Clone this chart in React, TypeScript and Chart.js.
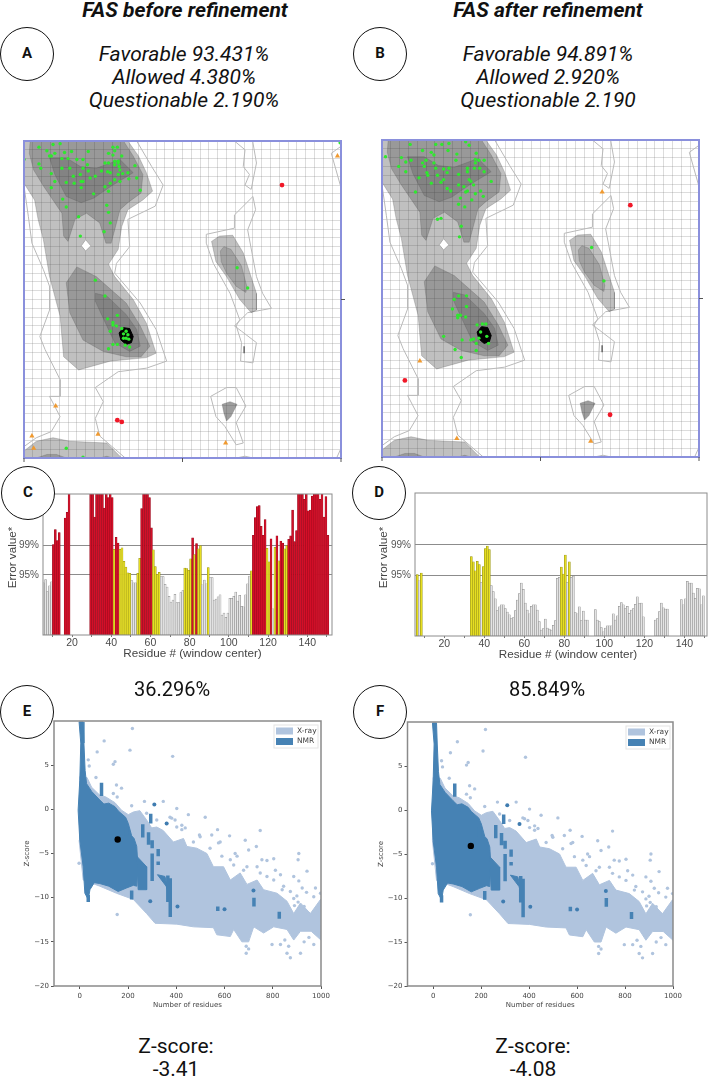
import React, { useEffect, useRef } from "react";
import { Chart, registerables } from "chart.js";

Chart.register(...registerables);

type P = [number, number];

/* ---------- Ramachandran plots (phi, psi in degrees) ---------- */
const ramaFrameTicks = [-180, 0, 180];
const ramaSideTicks = [0];

const lightMain: P[] = [[-180,180],[-62,180],[-50,163],[-41,144],[-34,123],[-45,113],[-62,102],[-69,83],[-73,57],[-84,40],[-77,26],[-56,0],[-41,-27],[-30,-61],[-41,-66],[-82,-70],[-118,-80],[-135,-65],[-139,-19],[-151,26],[-158,68],[-164,91],[-168,113],[-180,132]];
const hole: P[] = [[-110,68],[-104,61],[-110,55],[-115,61]];
const midTop: P[] = [[-173,180],[-67,180],[-56,163],[-45,142],[-47,121],[-62,110],[-71,102],[-81,64],[-87,64],[-94,87],[-109,98],[-122,91],[-130,66],[-135,72],[-137,98],[-158,129],[-169,147],[-174,166]];
const coreTop: P[] = [[-151,161],[-132,161],[-116,151],[-98,149],[-71,159],[-56,144],[-79,130],[-101,115],[-115,110],[-132,117],[-145,142]];
const midAlpha: P[] = [[-120,37],[-98,26],[-64,-4],[-48,-30],[-37,-53],[-47,-65],[-64,-65],[-90,-59],[-113,-46],[-128,-15],[-132,19]];
const coreAlpha: P[] = [[-99,7],[-86,4],[-64,-17],[-52,-34],[-48,-53],[-60,-59],[-77,-49],[-86,-30],[-99,-2]];
const blackCore: P[] = [[-67,-32],[-60,-33],[-56,-42],[-58,-49],[-64,-51],[-70,-46],[-72,-38]];
const lightBottom: P[] = [[-180,-180],[-180,-172],[-166,-161],[-147,-157],[-128,-161],[-86,-163],[-69,-180]];
const midBottomA: P[] = [[-166,-180],[-154,-176],[-143,-176],[-132,-180]];
const midBottomB: P[] = [[-94,-180],[-86,-178],[-79,-180]];
const lightRight: P[] = [[33,66],[42,72],[57,73],[69,53],[84,7],[84,-12],[78,-15],[65,0],[50,26],[38,43]];
const midRight: P[] = [[43,55],[47,60],[55,57],[67,38],[73,15],[72,8],[61,15],[50,30],[44,43]];
const smallIsland: P[] = [[45,-119],[54,-116],[62,-119],[55,-133],[50,-138],[47,-129]];

const outlineLeft: P[] = [[-180,129],[-175,94],[-171,64],[-158,34],[-151,15],[-151,-12],[-162,-42],[-156,-57],[-139,-91],[-139,-110],[-151,-110],[-139,-133],[-149,-150],[-166,-157],[-180,-167]];
const outlineCentre: P[] = [[-52,180],[-35,151],[-22,130],[-31,106],[-62,91],[-60,60],[-75,41],[-77,30],[-48,-4],[-30,-34],[-18,-70],[-41,-78],[-73,-82],[-99,-100],[-90,-116],[-99,-135],[-94,-155],[-65,-180]];
const outlineRight: P[] = [[27,74],[59,81],[59,96],[80,117],[83,102],[74,79],[84,26],[91,7],[101,-10],[74,-15],[59,-30],[67,-36],[84,-49],[80,-72],[66,-70],[67,-49],[61,-30],[65,-23],[54,7],[35,41],[27,64],[27,74]];
const outlineTop: P[] = [[59,180],[71,170],[69,151],[76,142],[71,130],[78,125],[84,155],[80,178],[80,180]];
const outlineBottom: P[] = [[32,-110],[50,-100],[61,-100],[72,-121],[61,-140],[69,-163],[61,-165],[48,-144],[38,-133],[32,-110]];
const outlineCornerTop: P[] = [[180,174],[169,166],[180,127]];
const outlineCornerBottom: P[] = [[180,-169],[175,-180]];
const outlineFoot: P[] = [[61,-180],[71,-178],[80,-180]];
const darkSpeck: P[] = [[70,-53],[70,-61]];

const greenA: P[] = [[-163,173],[-154,169],[-147,176],[-139,177],[-180,159],[-163,154],[-161,149],[-151,163],[-149,163],[-145,166],[-134,167],[-126,168],[-107,168],[-79,173],[-74,173],[-77,169],[-84,166],[-79,164],[-69,163],[-84,155],[-88,155],[-77,157],[-73,157],[-73,155],[-77,153],[-72,151],[-54,152],[-137,160],[-130,160],[-120,159],[-113,159],[-108,153],[-137,149],[-128,149],[-113,149],[-85,145],[-82,144],[-71,147],[-68,143],[-62,144],[-73,142],[-77,136],[-71,134],[-61,137],[-52,138],[-149,143],[-145,134],[-132,133],[-124,140],[-115,134],[-113,134],[-105,138],[-99,140],[-116,142],[-107,146],[-92,146],[-82,132],[-115,127],[-123,132],[-88,128],[-84,123],[-101,120],[-48,124],[-149,127],[-136,114],[-132,105],[-118,94],[-86,107],[-84,99],[-82,87],[-89,77],[-116,72],[-99,22],[-88,4],[-85,-22],[-74,-18],[-79,-26],[-75,-30],[-82,-36],[-79,-29],[-69,-33],[-67,-39],[-64,-36],[-62,-40],[-64,-44],[-61,-45],[-67,-44],[-79,-51],[-74,-51],[-84,-56],[-65,-52],[-60,-54],[62,36],[74,13],[179,178],[-132,-169],[-113,-179]];
const orangeA: P[] = [[176,163],[-144,-121],[-171,-155],[-169,-169],[-96,-153],[49,-163]];
const redA: P[] = [[113,130],[-74,-137],[-69,-139]];

const greenB: P[] = [[-176,161],[-148,175],[-119,175],[-112,175],[-104,176],[-85,178],[-81,174],[-134,168],[-124,166],[-121,163],[-105,168],[-95,164],[-73,165],[-158,160],[-153,155],[-147,157],[-134,154],[-130,157],[-121,154],[-96,157],[-74,158],[-70,157],[-64,157],[-161,150],[-153,144],[-132,150],[-129,143],[-128,140],[-119,148],[-117,140],[-110,147],[-106,143],[-104,148],[-93,141],[-83,148],[-83,144],[-74,154],[-75,148],[-69,148],[-64,144],[-56,133],[-138,137],[-124,131],[-113,132],[-110,135],[-106,125],[-102,122],[-93,129],[-87,127],[-81,135],[-79,133],[-76,129],[-85,121],[-83,122],[-68,122],[-74,119],[-65,116],[-142,121],[-91,114],[-78,112],[-93,107],[-86,104],[-117,90],[-113,91],[-90,82],[-92,70],[-93,3],[-84,3],[-98,-1],[-84,-9],[-100,-12],[-94,-19],[-91,-19],[-85,-21],[-94,-22],[-72,-30],[-66,-29],[-62,-29],[-68,-38],[-61,-43],[-70,-45],[-76,-46],[-79,-47],[-73,-51],[-59,-51],[-110,-43],[-89,-47],[-97,-58],[-73,-59],[-90,-67],[58,58],[72,20]];
const orangeB: P[] = [[-137,-71],[70,121],[-95,-159],[57,-162]];
const redB: P[] = [[102,106],[-154,-93],[79,-132]];

/* ---------- ERRAT error values per residue ---------- */
const errorTop = 27;
const limit95 = 11.5;
const limit99 = 17.2;
const errorTicks = [limit95, limit99];
const errorTickLabels = ["95%", "99%"];
const residueTicks = [10, 20, 30, 40, 50, 60, 70, 80, 90, 100, 110, 120, 130, 140, 150];
const residueLabelled = [20, 40, 60, 80, 100, 120, 140];

const errorC: (number | null)[] = [
  10.0,10.6,8.3,9.4,10.2,
  17.3,20.2,18.1,19.6,null,null,22.4,23.5,30,null,
  null,null,null,null,null,null,null,null,null,30,
  30,22.6,30,30,30,30,24.3,30,26.3,30,
  26.3,16.4,18.7,17.6,16.4,16.7,14.1,13.0,11.9,11.8,
  10.4,10.0,10.0,11.8,14.7,24.2,30,30,30,26.3,
  20.5,16.3,13.1,11.6,12.0,11.2,11.2,9.7,9.2,7.4,
  6.3,6.7,7.8,6.2,6.2,8.1,8.5,12.8,12.7,12.4,
  14.6,18.6,15.4,17.5,16.5,17.1,9.6,10.5,9.8,12.9,
  11.0,11.0,6.7,6.9,7.3,7.7,3.8,4.2,3.4,4.2,
  7.0,7.0,7.4,8.2,6.5,7.6,5.5,5.4,7.7,9.8,
  11.3,12.3,19.1,22.5,24.6,24.8,20.8,19.1,22.1,16.6,
  14.0,18.4,5,16.8,19,14.2,18,17.6,16.5,17.1,
  18.3,19,23.9,17.9,20,30,30,27,26,30,
  23.8,23.9,26.6,30,30,30,26,27,22.6,26.5,19.1,
];
const errorD: (number | null)[] = [
  null,11.6,10.4,11.9,null,
  null,null,null,null,null,null,null,null,null,null,
  null,null,null,null,null,null,null,null,null,null,
  null,null,null,15.0,14,12.3,14.1,13.5,10.1,13.1,
  16.5,17.0,16.3,9.5,8.4,7.0,4.8,5.5,5.9,5.9,
  5.2,4.5,4.0,3.3,3.5,4.8,6.8,8,10,8.8,
  6.2,4.9,4.2,5.6,5.9,5.9,4.9,2.7,1.1,1.4,
  3.2,1.5,1.3,1.1,2,2.9,10.9,11.1,13,11.7,
  15.3,10.1,14,11.1,11.3,4.4,4.2,5.5,2.9,4.7,
  3,3,null,null,null,5,3,2.7,1.6,0.8,
  1.5,1.9,1.9,1.9,4.2,3,3.8,5.6,6.3,5.9,
  5.2,5.6,4.3,4.9,5.2,6,7.4,6.1,6.2,3.6,
  null,null,null,null,null,3,3.3,4.6,6.2,5.3,
  5.1,5.1,null,null,null,null,null,null,6.9,5.9,
  7,10.3,10,10,8.1,7.1,9,8.9,5.9,7.6,null,
];
const firstResidue = 5.5;

/* ---------- Z-score clouds (residues, z) ---------- */
const zxTicks = [0, 200, 400, 600, 800, 1000];
const zyTicks = [-20, -15, -10, -5, 0, 5];
const xrayCloud: P[] = [[0,3.7],[30,3.6],[49,2.5],[83,1.6],[108,1.4],[146,0.75],[173,-0.1],[201,-0.6],[222,-0.3],[249,-0.15],[277,-1.2],[298,-2.1],[319,-2],[346,-2.4],[388,-3.7],[430,-3.3],[444,-4.2],[485,-4.4],[527,-5],[554,-6.5],[596,-6.5],[624,-8],[665,-7.2],[693,-8.5],[735,-8],[762,-9.1],[818,-9.5],[859,-10.4],[887,-11.8],[915,-10.6],[956,-11.8],[998,-10.2],[1000,-14.8],[959,-13.8],[915,-13.8],[887,-14.8],[859,-13.6],[804,-13.3],[762,-14],[721,-13.3],[700,-15],[672,-15],[638,-13.6],[624,-14.4],[568,-14.2],[554,-13.4],[471,-13.3],[402,-13],[312,-12.9],[277,-11.8],[222,-10.2],[152,-9.5],[83,-8.7],[14,-8],[-3,-3.5]];
const nmrCloud: P[] = [[-3,9.9],[14,9.9],[17,7.5],[22,4.4],[28,2.9],[50,2],[83,1.05],[100,0.6],[120,0.7],[146,0.3],[160,-0.2],[190,-0.9],[201,-1.6],[215,-3],[225,-3.3],[236,-4.2],[240,-6],[236,-8.7],[222,-8.6],[194,-8.9],[159,-9.3],[120,-8.7],[83,-8.4],[60,-8.3],[42,-9.1],[35,-10.2],[21,-9.5],[14,-6.5],[0,-3.5],[-7,-0.1],[0,3.3],[4,7.5]];
const nmrBlobA: P[] = [[236,-5.3],[277,-6.5],[277,-9.1],[242,-9.1]];
const nmrBlobB: P[] = [[322,-7.4],[353,-7.6],[374,-10.2],[358,-8.7]];
const nmrColumns: [number, number, number][] = [[90,3,1.5],[294,-0.5,-1.6],[261,-1.7,-3.2],[285,-2.6,-4],[300,-3.5,-4.4],[325,-4.5,-5.3],[325,-5.9,-6.3],[300,-5,-8.1],[375,-7.8,-12.2],[365,-7.5,-10.5],[572,-11,-11.5],[722,-10,-11],[827,-11.6,-12.4],[215,-9.2,-10.2],[35,-9.7,-10.5],[194,-2,-3]];
const nmrDots: P[] = [[309,0.55],[360,-1.6],[292,-10.4],[405,-11],[600,-11.3],[720,-9.2]];
const xrayStray: P[] = [[218,9.15],[101,7.75],[208,6.7],[385,6],[72,6.5],[146,5.4],[139,5.1],[35,5.6],[39,4.9],[67,3.6],[152,2.75],[173,2.4],[139,1.8],[155,1.4],[215,0.4],[268,0.9],[346,0.9],[402,0.1],[450,-0.6],[520,-0.9],[395,-1.2],[374,-0.9],[423,-2.3],[571,-2.3],[496,-2.9],[547,-2.9],[621,-3],[748,-2.4],[686,-3.5],[582,-3.7],[700,-4.6],[732,-4.2],[644,-5],[652,-5.3],[755,-5.7],[776,-5.8],[804,-5.6],[908,-5],[905,-5.7],[811,-6.9],[832,-7.4],[887,-7.6],[908,-8.1],[942,-7],[977,-8.9],[721,-9.1],[922,-8.9],[970,-9.9],[887,-10.1],[155,-11.9],[-3,-6.1],[949,-11.8],[977,-11.8],[915,-16.3],[873,-16.8],[859,-16.3],[690,-16.3],[832,-15.3],[797,-15.3],[970,-15.3],[998,-9.5],[984,-14],[700,-15.8],[690,-15.5],[866,-15.5],[850,-14.8],[930,-15],[950,-14.5],[905,-10.5],[890,-10.9],[930,-11],[960,-12],[985,-11.5],[277,-0.45],[229,-0.8],[319,-1.2],[360,-1.6],[381,-1],[402,-2],[423,-1.8],[437,-2.1],[471,-3.7],[499,-3.1],[540,-4.4],[575,-3.8],[589,-5.3],[624,-5.7],[638,-6.3],[679,-6.9],[693,-6.5],[735,-6.5],[748,-7.2],[776,-7.6],[804,-8],[839,-9.1],[873,-9.3],[845,-8.7],[900,-9.8],[940,-9.4]];
const proteinE: P[] = [[157, -3.41]];
const proteinF: P[] = [[157, -4.08]];

/* ---------- Helpers ---------- */
const polyFillPlugin = {
  id: "polyFill",
  beforeDatasetDraw(chart: any, args: any) {
    const ds: any = chart.data.datasets[args.index];
    if (!ds.polyFill) return;
    const { ctx, chartArea: a } = chart;
    ctx.save();
    ctx.beginPath();
    ctx.rect(a.left, a.top, a.right - a.left, a.bottom - a.top);
    ctx.clip();
    ctx.beginPath();
    args.meta.data.forEach((p: any, i: number) => (i ? ctx.lineTo(p.x, p.y) : ctx.moveTo(p.x, p.y)));
    ctx.closePath();
    ctx.fillStyle = ds.polyFill;
    ctx.fill();
    ctx.restore();
  },
};

const framePlugin = {
  id: "frame",
  afterDraw(chart: any, _a: any, o: any) {
    const { ctx, chartArea: a } = chart;
    ctx.save();
    ctx.strokeStyle = o.color;
    ctx.lineWidth = o.width;
    ctx.strokeRect(a.left, a.top, a.right - a.left, a.bottom - a.top);
    if (o.marks) {
      ctx.strokeStyle = "#555";
      ctx.lineWidth = 1;
      ctx.beginPath();
      ramaFrameTicks.forEach((v) => {
        const x = chart.scales.x.getPixelForValue(v);
        ctx.moveTo(x, a.bottom);
        ctx.lineTo(x, a.bottom + 4);
      });
      ramaSideTicks.forEach((v) => {
        const y = chart.scales.y.getPixelForValue(v);
        ctx.moveTo(a.right, y);
        ctx.lineTo(a.right + 4, y);
      });
      ctx.stroke();
    }
    if (o.captions) {
      ctx.fillStyle = "#444";
      ctx.font = "11.7px 'Liberation Sans'";
      ctx.textAlign = "center";
      ctx.textBaseline = "middle";
      const cx = (a.left + a.right) / 2;
      const cy = (a.top + a.bottom) / 2;
      ctx.fillText(o.captions.x, cx + o.captions.dx, a.bottom + 18.5);
      ctx.translate(o.captions.yAt, cy + o.captions.dy);
      ctx.rotate(-Math.PI / 2);
      ctx.fillText(o.captions.y, 0, 0);
    }
    ctx.restore();
  },
};

const zLegendPlugin = {
  id: "zLegend",
  afterDraw(chart: any, _a: any, o: any) {
    if (!o.entries) return;
    const { ctx, chartArea: a } = chart;
    const right = a.right - 3;
    const left = right - 44;
    const top = a.top + 4;
    ctx.save();
    ctx.fillStyle = "rgba(255,255,255,0.85)";
    ctx.strokeStyle = "#e4e4e4";
    ctx.lineWidth = 1;
    ctx.fillRect(left, top, 44, 23);
    ctx.strokeRect(left, top, 44, 23);
    ctx.font = "7.5px 'DejaVu Sans'";
    ctx.textBaseline = "middle";
    o.entries.forEach((e: any, i: number) => {
      ctx.fillStyle = e.color;
      ctx.fillRect(left + 2, top + 2.5 + i * 10.5, 17, 7);
      ctx.fillStyle = "#444";
      ctx.fillText(e.label, left + 23, top + 6 + i * 10.5);
    });
    ctx.restore();
  },
};

const toXY = (pts: P[]) => pts.map(([x, y]) => ({ x, y }));
const closed = (pts: P[]) => toXY([...pts, pts[0]]);

const poly = (pts: P[], fill: string, stroke = "rgba(90,90,90,0.4)", width = 0.7) => ({
  data: closed(pts),
  polyFill: fill,
  showLine: true,
  borderColor: stroke,
  borderWidth: width,
  pointRadius: 0,
});
const line = (pts: P[], color = "#b9b9b9", width = 1) => ({
  data: toXY(pts),
  showLine: true,
  borderColor: color,
  borderWidth: width,
  pointRadius: 0,
});
const dots = (pts: P[], color: string, radius: number, style = "circle") => ({
  data: toXY(pts),
  backgroundColor: color,
  borderWidth: 0,
  pointRadius: radius,
  pointStyle: style,
  showLine: false,
});

type Box = { left: number; top: number; width: number; height: number; plotLeft: number; plotTop: number; plotRight: number; plotBottom: number };

const fixArea = (b: Box) => ({
  padding: { top: b.plotTop - b.top, right: b.left + b.width - b.plotRight, left: 0, bottom: 0 },
});

function useChart(build: () => any) {
  const ref = useRef<HTMLCanvasElement>(null);
  useEffect(() => {
    const chart = new Chart(ref.current as HTMLCanvasElement, build());
    return () => chart.destroy();
  }, []);
  return ref;
}

function ChartBox({ box, config }: { box: Box; config: () => any }) {
  const ref = useChart(config);
  return (
    <canvas
      ref={ref}
      width={box.width}
      height={box.height}
      style={{ position: "absolute", left: box.left, top: box.top, width: box.width, height: box.height, filter: "blur(0.5px)" }}
    />
  );
}

function ramaConfig(b: Box, green: P[], orange: P[], red: P[]) {
  const gridStyle = { color: "rgba(125,125,125,0.27)", drawTicks: false };
  return () => ({
    type: "scatter",
    data: {
      datasets: [
        dots(green, "#2fe82f", 1.7),
        dots(red, "#f01828", 2.4),
        dots(orange, "#f09a30", 3, "triangle"),
        line(darkSpeck, "#666", 1.5),
        poly(blackCore, "#000", "#000", 1),
        poly(hole, "#fff", "#aaa", 1),
        poly(coreTop, "rgba(40,40,40,0.2)"),
        poly(coreAlpha, "rgba(40,40,40,0.2)"),
        poly(midRight, "rgba(40,40,40,0.2)"),
        poly(midTop, "rgba(40,40,40,0.26)"),
        poly(midAlpha, "rgba(40,40,40,0.26)"),
        poly(midBottomA, "rgba(40,40,40,0.26)"),
        poly(midBottomB, "rgba(40,40,40,0.26)"),
        poly(lightMain, "rgba(60,60,60,0.32)"),
        poly(lightRight, "rgba(60,60,60,0.32)"),
        poly(lightBottom, "rgba(60,60,60,0.32)"),
        poly(smallIsland, "rgba(60,60,60,0.5)"),
        line(outlineLeft),
        line(outlineCentre),
        line(outlineRight),
        line(outlineTop),
        line(outlineBottom),
        line(outlineCornerTop),
        line(outlineCornerBottom),
        line(outlineFoot),
      ],
    },
    plugins: [polyFillPlugin, framePlugin],
    options: {
      animation: false,
      responsive: false,
      devicePixelRatio: 1,
      layout: fixArea(b),
      plugins: {
        legend: { display: false },
        tooltip: { enabled: false },
        frame: { color: "#8a90dc", width: 2, marks: true },
      },
      scales: {
        x: {
          type: "linear",
          min: -180,
          max: 180,
          afterFit: (s: any) => (s.height = b.top + b.height - b.plotBottom),
          ticks: { display: false, stepSize: 10, autoSkip: false, maxTicksLimit: 100 },
          grid: gridStyle,
          border: { display: false },
        },
        y: {
          min: -180,
          max: 180,
          afterFit: (s: any) => (s.width = b.plotLeft - b.left),
          ticks: { display: false, stepSize: 10, autoSkip: false, maxTicksLimit: 100 },
          grid: gridStyle,
          border: { display: false },
        },
      },
    },
  });
}

function barColour(v: number | null, kind: "fill" | "edge") {
  const n = v ?? 0;
  if (n >= limit99) return kind === "fill" ? "#d30f28" : "#8e0a1c";
  if (n >= limit95) return kind === "fill" ? "#e6de22" : "#8d8a18";
  return kind === "fill" ? "#e4e4e4" : "#858585";
}

function errorConfig(b: Box, values: (number | null)[], xMin: number, xMax: number, yTitleAt: number, dx: number) {
  const rows = values
    .map((y, i) => ({ x: firstResidue + i, y }))
    .filter((p) => p.y !== null);
  return () => ({
    type: "bar",
    data: {
      datasets: [
        {
          data: rows,
          backgroundColor: rows.map((p) => barColour(p.y, "fill")),
          borderColor: rows.map((p) => barColour(p.y, "edge")),
          borderWidth: 0.5,
          borderSkipped: false,
          barPercentage: 1,
          categoryPercentage: 1,
        },
      ],
    },
    plugins: [framePlugin],
    options: {
      animation: false,
      responsive: false,
      devicePixelRatio: 1,
      layout: fixArea(b),
      plugins: {
        legend: { display: false },
        tooltip: { enabled: false },
        frame: {
          color: "#8c8c8c",
          width: 1,
          captions: { x: "Residue # (window center)", dx, y: "Error value*", yAt: yTitleAt, dy: -7 },
        },
      },
      scales: {
        x: {
          type: "linear",
          offset: false,
          min: xMin,
          max: xMax,
          afterBuildTicks: (s: any) => (s.ticks = residueTicks.map((value) => ({ value }))),
          afterFit: (s: any) => (s.height = b.top + b.height - b.plotBottom),
          ticks: {
            autoSkip: false,
            maxRotation: 0,
            color: "#4a4a4a",
            font: { family: "'Liberation Sans'", size: 10.5 },
            padding: 0,
            callback: (v: number) => (residueLabelled.includes(v) ? String(v) : ""),
          },
          grid: { offset: false, drawOnChartArea: false, tickLength: 2, color: "#777" },
          border: { display: false },
        },
        y: {
          min: 0,
          max: errorTop,
          afterBuildTicks: (s: any) => (s.ticks = errorTicks.map((value) => ({ value }))),
          afterFit: (s: any) => (s.width = b.plotLeft - b.left),
          ticks: {
            color: "#555",
            font: { family: "'Liberation Sans'", size: 10 },
            padding: 4,
            callback: (v: number) => errorTickLabels[errorTicks.indexOf(v)],
          },
          grid: { color: "#8c8c8c", drawTicks: false },
          border: { display: false },
        },
      },
    },
  });
}

function zConfig(b: Box, protein: P[]) {
  const columns: any[] = [];
  nmrColumns.forEach(([x, y1, y2]) => {
    columns.push({ x, y: y1 }, { x, y: y2 }, { x, y: NaN });
  });
  const tickFont = { family: "'DejaVu Sans'", size: 7 };
  return () => ({
    type: "scatter",
    data: {
      datasets: [
        dots(protein, "#000", 3.2),
        dots(nmrDots, "#3f7cb0", 2),
        { data: columns, showLine: true, borderColor: "#4682b4", borderWidth: 3.5, pointRadius: 0 },
        poly(nmrBlobA, "#4682b4", "#4682b4", 1),
        poly(nmrBlobB, "#4682b4", "#4682b4", 1),
        poly(nmrCloud, "#4682b4", "#4682b4", 1),
        dots(xrayStray, "#b0c4de", 1.7),
        poly(xrayCloud, "#b0c4de", "#b0c4de", 1),
      ],
    },
    plugins: [polyFillPlugin, framePlugin, zLegendPlugin],
    options: {
      animation: false,
      responsive: false,
      devicePixelRatio: 1,
      layout: fixArea(b),
      plugins: {
        legend: { display: false },
        tooltip: { enabled: false },
        frame: { color: "#8a8a8a", width: 1.5 },
        zLegend: { entries: [{ label: "X-ray", color: "#b0c4de" }, { label: "NMR", color: "#4682b4" }] },
      },
      scales: {
        x: {
          type: "linear",
          min: -107,
          max: 1000,
          afterBuildTicks: (s: any) => (s.ticks = zxTicks.map((value) => ({ value }))),
          afterFit: (s: any) => (s.height = b.top + b.height - b.plotBottom),
          ticks: { autoSkip: false, maxRotation: 0, color: "#444", font: tickFont, padding: 3, callback: (v: number) => String(v) },
          grid: { drawOnChartArea: false, tickLength: 3, color: "#555" },
          border: { display: false },
          title: { display: true, text: "Number of residues", color: "#444", font: tickFont, padding: { top: 0, bottom: 11 } },
        },
        y: {
          min: -20,
          max: 10,
          afterBuildTicks: (s: any) => (s.ticks = zyTicks.map((value) => ({ value }))),
          afterFit: (s: any) => (s.width = b.plotLeft - b.left),
          ticks: { color: "#444", font: tickFont, padding: 2, callback: (v: number) => String(v).replace("-", "\u2212") },
          grid: { drawOnChartArea: false, tickLength: 3, color: "#555" },
          border: { display: false },
          title: { display: true, text: "Z-score", color: "#444", font: tickFont, padding: { top: 23, bottom: 0 } },
        },
      },
    },
  });
}

/* ---------- Boxes ---------- */
const boxA: Box = { left: 20, top: 137, width: 330, height: 330, plotLeft: 24, plotTop: 141, plotRight: 341, plotBottom: 458 };
const boxB: Box = { left: 378, top: 136, width: 330, height: 330, plotLeft: 382, plotTop: 140, plotRight: 699, plotBottom: 457 };
const boxC: Box = { left: 0, top: 480, width: 354, height: 185, plotLeft: 43, plotTop: 494, plotRight: 332, plotBottom: 635 };
const boxD: Box = { left: 354, top: 480, width: 354, height: 185, plotLeft: 415, plotTop: 493, plotRight: 707, plotBottom: 636 };
const boxE: Box = { left: 0, top: 700, width: 354, height: 320, plotLeft: 54, plotTop: 721, plotRight: 321, plotBottom: 986 };
const boxF: Box = { left: 354, top: 700, width: 354, height: 320, plotLeft: 407.5, plotTop: 722, plotRight: 673, plotBottom: 986 };

const roboto = "Roboto, sans-serif";

function Txt({ cx, cy, size, children, weight = 400, italic = false }: any) {
  return (
    <div
      style={{
        position: "absolute",
        left: cx - 150,
        top: cy - 20,
        width: 300,
        height: 40,
        lineHeight: "40px",
        textAlign: "center",
        fontFamily: roboto,
        fontSize: size,
        fontWeight: weight,
        fontStyle: italic ? "italic" : "normal",
        color: "#111",
        whiteSpace: "nowrap",
      }}
    >
      {children}
    </div>
  );
}

function Badge({ cx, cy, letter }: { cx: number; cy: number; letter: string }) {
  const r = 27;
  return (
    <div
      style={{
        position: "absolute",
        left: cx - r,
        top: cy - r,
        width: r * 2,
        height: r * 2,
        boxSizing: "border-box",
        border: "1.5px solid #111",
        borderRadius: "50%",
        background: "#fff",
        fontFamily: roboto,
        fontWeight: 700,
        fontSize: 15,
        lineHeight: `${r * 2 - 3}px`,
        textAlign: "center",
        color: "#111",
      }}
    >
      {letter}
    </div>
  );
}

export default function App() {
  return (
    <div style={{ position: "absolute", left: 0, top: 0, width: 708, height: 1076, overflow: "hidden", background: "#fff" }}>
      <ChartBox box={boxA} config={ramaConfig(boxA, greenA, orangeA, redA)} />
      <ChartBox box={boxB} config={ramaConfig(boxB, greenB, orangeB, redB)} />
      <ChartBox box={boxC} config={errorConfig(boxC, errorC, 5.2, 152.6, 13, 5)} />
      <ChartBox box={boxD} config={errorConfig(boxD, errorD, 5.33, 151.3, 30, 7)} />
      <ChartBox box={boxE} config={zConfig(boxE, proteinE)} />
      <ChartBox box={boxF} config={zConfig(boxF, proteinF)} />

      <Txt cx={185} cy={10} size={21} weight={700} italic>FAS before refinement</Txt>
      <Txt cx={548} cy={10} size={21} weight={700} italic>FAS after refinement</Txt>
      <Txt cx={184} cy={54} size={21} italic>Favorable 93.431%</Txt>
      <Txt cx={184} cy={77} size={21} italic>Allowed 4.380%</Txt>
      <Txt cx={184} cy={100} size={21} italic>Questionable 2.190%</Txt>
      <Txt cx={548} cy={54} size={21} italic>Favorable 94.891%</Txt>
      <Txt cx={548} cy={77} size={21} italic>Allowed 2.920%</Txt>
      <Txt cx={548} cy={100} size={21} italic>Questionable 2.190</Txt>
      <Txt cx={172} cy={689} size={20}>36.296%</Txt>
      <Txt cx={547} cy={689} size={20}>85.849%</Txt>
      <Txt cx={176} cy={1046} size={21}>Z-score:</Txt>
      <Txt cx={176} cy={1069} size={21}>-3.41</Txt>
      <Txt cx={533} cy={1046} size={21}>Z-score:</Txt>
      <Txt cx={533} cy={1069} size={21}>-4.08</Txt>

      <Badge cx={27} cy={54} letter="A" />
      <Badge cx={380} cy={54} letter="B" />
      <Badge cx={28} cy={493} letter="C" />
      <Badge cx={379} cy={493} letter="D" />
      <Badge cx={27} cy={712} letter="E" />
      <Badge cx={380} cy={712} letter="F" />
    </div>
  );
}
